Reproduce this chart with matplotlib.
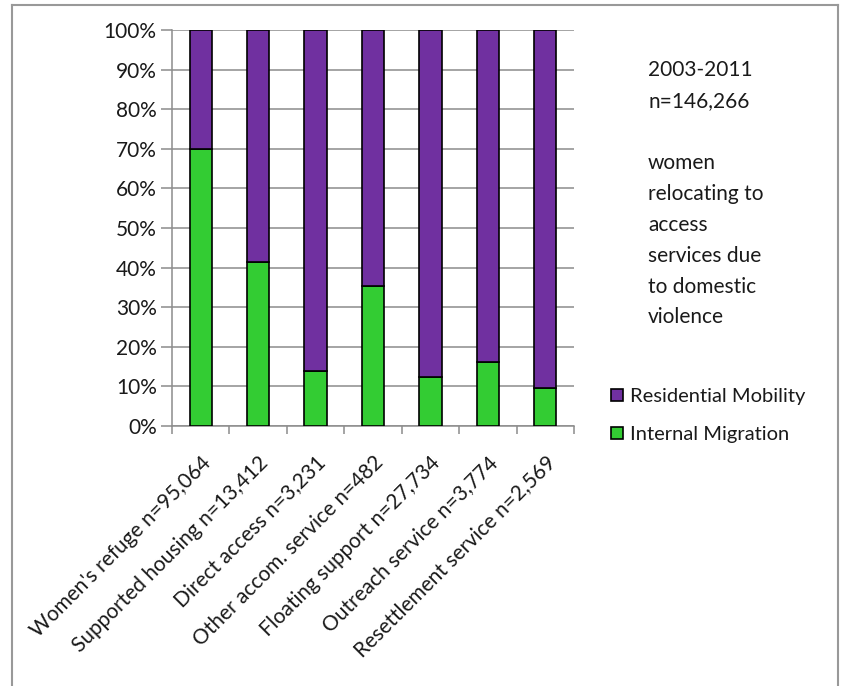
import matplotlib
matplotlib.use("Agg")
import matplotlib.pyplot as plt
from matplotlib.lines import Line2D
import numpy as np

categories = ["Women's refuge n=95,064", "Supported housing n=13,412", "Direct access n=3,231",
              "Other accom. service n=482", "Floating support n=27,734", "Outreach service n=3,774",
              "Resettlement service n=2,569"]
internal_migration = [70.0, 41.3, 13.9, 35.3, 12.5, 16.1, 9.5]
residential_mobility = [100 - v for v in internal_migration]
yticks = [0, 10, 20, 30, 40, 50, 60, 70, 80, 90, 100]

plt.rcParams['font.family'] = ['Lato', 'DejaVu Sans']
FS = 15

fig = plt.figure(figsize=(8.41, 6.86), dpi=100)
W, H = 841, 686
border = dict(color='#999999', linewidth=1.5, transform=fig.transFigure)
fig.lines.append(Line2D([12/W, 12/W], [0, 1-5/H], **border))
fig.lines.append(Line2D([12/W, 838/W], [1-5/H, 1-5/H], **border))
fig.lines.append(Line2D([838/W, 838/W], [0, 1-5/H], **border))

ax = fig.add_axes([172/W, 1-426/H, (574-172)/W, (426-30)/H])

x = np.arange(len(categories))
w = 0.39
ax.bar(x, internal_migration, w, color='#33CC33', edgecolor='black', linewidth=1.2,
       label='Internal Migration', zorder=3)
ax.bar(x, residential_mobility, w, bottom=internal_migration, color='#7030A0', edgecolor='black',
       linewidth=1.2, label='Residential Mobility', zorder=3)

ax.set_xlim(-0.5, len(categories) - 0.5)
ax.set_ylim(0, 100)
ax.set_yticks(yticks)
ax.set_yticklabels([f"{t}%" for t in yticks], fontsize=FS)
ax.yaxis.grid(True, color='#8c8c8c', linewidth=1.1, zorder=0)
ax.tick_params(axis='y', length=8, color='#8c8c8c', width=1.1, pad=3, labelcolor='#1a1a1a')

ax.set_xticks(x)
ax.set_xticklabels(categories, rotation=45, ha='right', va='top', rotation_mode='anchor', fontsize=FS,
                   color='#1a1a1a')
ax.tick_params(axis='x', which='major', length=0, pad=19)
ax.set_xticks(np.arange(-0.5, len(categories), 1), minor=True)
ax.tick_params(axis='x', which='minor', length=6, color='#8c8c8c', width=1.1)

for s in ['top', 'right']:
    ax.spines[s].set_visible(False)
for s in ['left', 'bottom']:
    ax.spines[s].set_color('#8c8c8c')
    ax.spines[s].set_linewidth(1.1)

fig.text(648/W, 1-60/H, "2003-2011\nn=146,266", fontsize=FS, va='top', ha='left', linespacing=1.72,
         color='#1a1a1a')
fig.text(648/W, 1-153/H, "women\nrelocating to\naccess\nservices due\nto domestic\nviolence",
         fontsize=FS, va='top', ha='left', linespacing=1.68, color='#1a1a1a')

handles, labels = ax.get_legend_handles_labels()
leg = fig.legend(handles[::-1], labels[::-1], loc='upper left', bbox_to_anchor=(611/W, 1-388/H),
                 frameon=False, fontsize=FS - 0.5, handlelength=0.6, handleheight=0.6, handletextpad=0.35,
                 labelspacing=1.05, borderaxespad=0, borderpad=0)
for t in leg.get_texts():
    t.set_color('#1a1a1a')

fig.savefig("out.png", dpi=100)
